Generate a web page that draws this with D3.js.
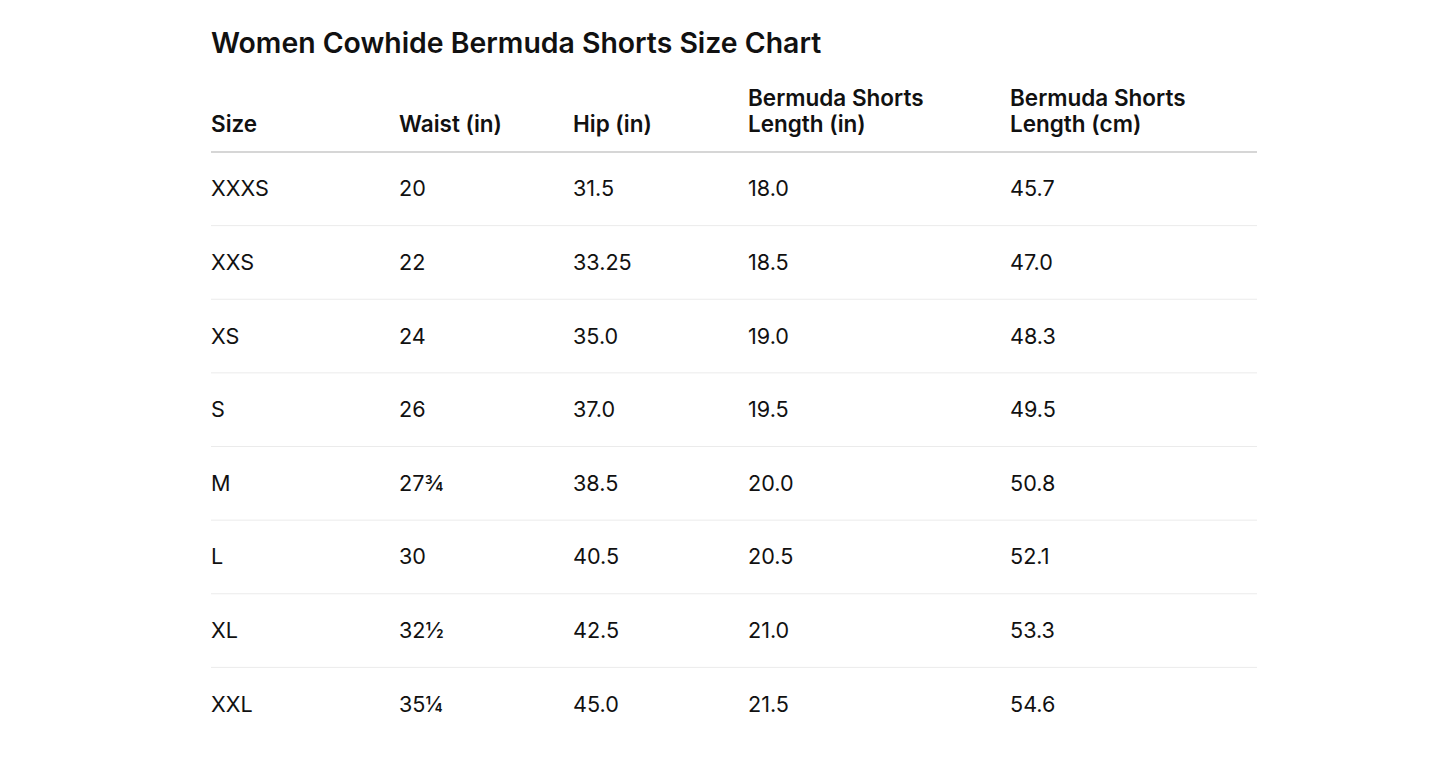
<!DOCTYPE html>
<html><head><meta charset="utf-8">
<script src="https://cdn.jsdelivr.net/npm/d3@7"></script>
<style>body{margin:0;background:#fff;}</style>
</head><body>
<script>
const title = "Women Cowhide Bermuda Shorts Size Chart";
const headers = [["Size"],["Waist (in)"],["Hip (in)"],["Bermuda Shorts","Length (in)"],["Bermuda Shorts","Length (cm)"]];
const sizes = ["XXXS","XXS","XS","S","M","L","XL","XXL"];
const waist = ["20","22","24","26","27¾","30","32½","35¼"];
const hip = ["31.5","33.25","35.0","37.0","38.5","40.5","42.5","45.0"];
const lenIn = ["18.0","18.5","19.0","19.5","20.0","20.5","21.0","21.5"];
const lenCm = ["45.7","47.0","48.3","49.5","50.8","52.1","53.3","54.6"];
const columns = [sizes, waist, hip, lenIn, lenCm];

const W = 1445, H = 768;
const svg = d3.select("body").append("svg").attr("width", W).attr("height", H)
  .style("font-family", "Inter, 'Noto Sans', sans-serif");
const xPos = [211, 399, 573, 748, 1010];
const left = 211, right = 1257;
const y = d3.scaleBand().domain(d3.range(sizes.length)).range([152, 741]);

svg.append("text").attr("x", left).attr("y", 53).attr("font-size", 28.4).attr("font-weight", 600)
  .attr("fill", "#111").text(title);

headers.forEach((h, i) => {
  h.forEach((line, j) => {
    svg.append("text").attr("x", xPos[i]).attr("y", 132 - (h.length - 1 - j) * 26)
      .attr("font-size", 22.5).attr("font-weight", 600).attr("fill", "#111").text(line);
  });
});
svg.append("line").attr("x1", left).attr("x2", right).attr("y1", 152).attr("y2", 152)
  .attr("stroke", "#c8c8c8").attr("stroke-width", 1.5);

svg.selectAll("line.sep").data(d3.range(1, sizes.length)).join("line").attr("class", "sep")
  .attr("x1", left).attr("x2", right).attr("y1", d => y(d)).attr("y2", d => y(d))
  .attr("stroke", "#ebebeb").attr("stroke-width", 1);

columns.forEach((col, i) => {
  svg.selectAll(null).data(col).join("text")
    .attr("x", xPos[i]).attr("y", (d, r) => y(r) + y.bandwidth() / 2)
    .attr("dy", "0.35em").attr("font-size", 21.6).attr("fill", "#111").text(d => d);
});
</script>
</body></html>
